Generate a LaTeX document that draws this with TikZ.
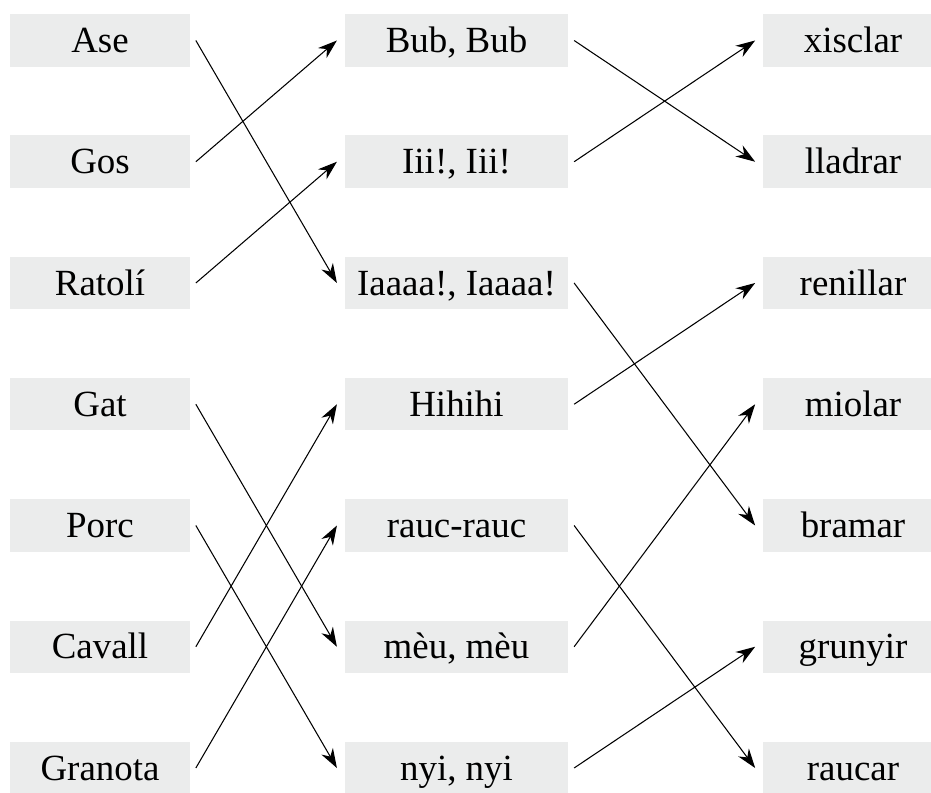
\documentclass[tikz,border=0pt]{standalone}
\usepackage{fontspec}
\setmainfont{Liberation Serif}
\usetikzlibrary{arrows.meta}
\definecolor{boxgray}{RGB}{235,236,236}
\tikzset{
  word/.style={fill=boxgray, minimum height=1.05cm, inner sep=0pt,
    text height=13.9pt, text depth=0pt, font=\fontsize{21}{25}\selectfont},
  side/.style={word, minimum width=3.6cm},
  mid/.style={word, minimum width=4.47cm},
  link/.style={line width=0.6pt, -{Stealth[length=11pt,width=7.5pt,inset=3.5pt]}}
}
\begin{document}
\begin{tikzpicture}[x=1cm,y=1cm]
    \useasboundingbox (0,0) rectangle (18.62,15.84);
    % animals
    \node[side] (ase) at (2.0,15.03) {Ase};
    \node[side] (gos) at (2.0,12.605) {Gos};
    \node[side] (ratoli) at (2.0,10.18) {Ratolí};
    \node[side] (gat) at (2.0,7.755) {Gat};
    \node[side] (porc) at (2.0,5.33) {Porc};
    \node[side] (cavall) at (2.0,2.905) {Cavall};
    \node[side] (granota) at (2.0,0.48) {Granota};
    % sounds
    \node[mid] (bub) at (9.13,15.03) {Bub, Bub};
    \node[mid] (iii) at (9.13,12.605) {Iii!, Iii!};
    \node[mid] (iaaaa) at (9.13,10.18) {Iaaaa!, Iaaaa!};
    \node[mid] (hihihi) at (9.13,7.755) {Hihihi};
    \node[mid] (rauc) at (9.13,5.33) {rauc-rauc};
    \node[mid] (meu) at (9.13,2.905) {mèu, mèu};
    \node[mid] (nyi) at (9.13,0.48) {nyi, nyi};
    % verbs
    \node[side] (xisclar) at (17.06,15.03) {xisclar};
    \node[side] (lladrar) at (17.06,12.605) {lladrar};
    \node[side] (renillar) at (17.06,10.18) {renillar};
    \node[side] (miolar) at (17.06,7.755) {miolar};
    \node[side] (bramar) at (17.06,5.33) {bramar};
    \node[side] (grunyir) at (17.06,2.905) {grunyir};
    \node[side] (raucar) at (17.06,0.48) {raucar};
    % animal -> sound
    \draw[link] ([xshift=0.11cm]ase.east) -- ([xshift=-0.15cm]iaaaa.west);
    \draw[link] ([xshift=0.11cm]gos.east) -- ([xshift=-0.15cm]bub.west);
    \draw[link] ([xshift=0.11cm]ratoli.east) -- ([xshift=-0.15cm]iii.west);
    \draw[link] ([xshift=0.11cm]gat.east) -- ([xshift=-0.15cm]meu.west);
    \draw[link] ([xshift=0.11cm]porc.east) -- ([xshift=-0.15cm]nyi.west);
    \draw[link] ([xshift=0.11cm]cavall.east) -- ([xshift=-0.15cm]hihihi.west);
    \draw[link] ([xshift=0.11cm]granota.east) -- ([xshift=-0.15cm]rauc.west);
    % sound -> verb
    \draw[link] ([xshift=0.11cm]bub.east) -- ([xshift=-0.15cm]lladrar.west);
    \draw[link] ([xshift=0.11cm]iii.east) -- ([xshift=-0.15cm]xisclar.west);
    \draw[link] ([xshift=0.11cm]iaaaa.east) -- ([xshift=-0.15cm]bramar.west);
    \draw[link] ([xshift=0.11cm]hihihi.east) -- ([xshift=-0.15cm]renillar.west);
    \draw[link] ([xshift=0.11cm]rauc.east) -- ([xshift=-0.15cm]raucar.west);
    \draw[link] ([xshift=0.11cm]meu.east) -- ([xshift=-0.15cm]miolar.west);
    \draw[link] ([xshift=0.11cm]nyi.east) -- ([xshift=-0.15cm]grunyir.west);
  \end{tikzpicture}
\end{document}
